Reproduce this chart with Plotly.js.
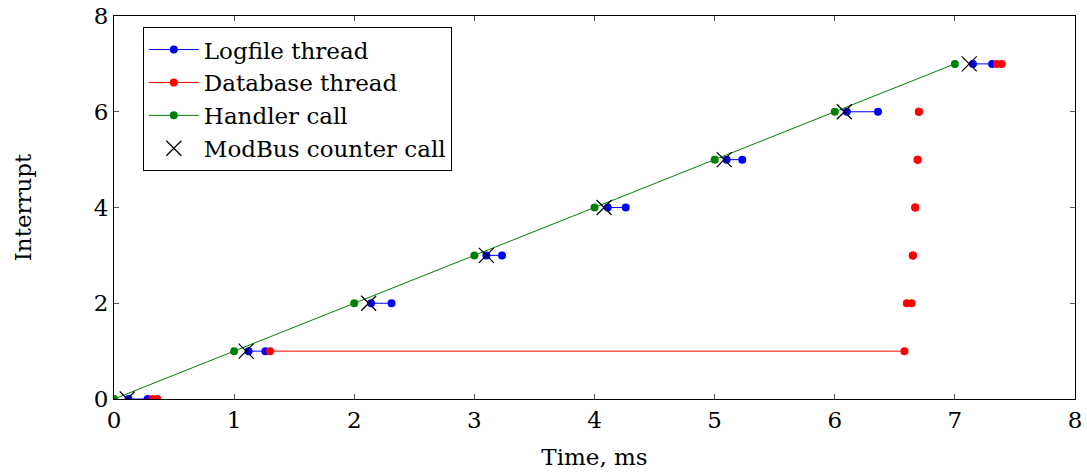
<!DOCTYPE html>
<html>
<head>
<meta charset="utf-8">
<script src="https://cdn.plot.ly/plotly-3.0.1.min.js"></script>
<style>html,body{margin:0;padding:0;background:#fff;}#chart{width:1087px;height:475px;}</style>
</head>
<body>
<div id="chart"></div>
<script>
// Interrupt number (y value) for each group of calls
const interrupts = [0, 1, 2, 3, 4, 5, 6, 7];
// Handler call time (ms)
const handlerTime = [0.00, 1.00, 2.00, 3.00, 4.00, 5.00, 6.00, 7.00];
// ModBus counter call time (ms)
const modbusTime = [0.11, 1.10, 2.12, 3.10, 4.08, 5.08, 6.08, 7.12];
// Logfile thread start / end (ms)
const logStart = [0.12, 1.12, 2.14, 3.10, 4.11, 5.10, 6.10, 7.15];
const logEnd   = [0.28, 1.26, 2.31, 3.23, 4.26, 5.23, 6.36, 7.31];
// Database thread start / end (ms)
const dbStart = [0.32, 1.30, 6.60, 6.65, 6.67, 6.69, 6.70, 7.35];
const dbEnd   = [0.36, 6.58, 6.64, 6.65, 6.67, 6.69, 6.70, 7.39];

function segs(a, b) {
  const x = [], y = [];
  interrupts.forEach((k, i) => { x.push(a[i], b[i], null); y.push(k, k, null); });
  return {x, y};
}
const logS = segs(logStart, logEnd);
const dbS = segs(dbStart, dbEnd);

const FONT = "DejaVu Serif";
const FS = 23;

const traces = [
  {name: 'Logfile thread', x: logS.x, y: logS.y, mode: 'lines+markers',
   line: {color: 'rgb(0,0,255)', width: 1}, marker: {color: 'rgb(0,0,255)', size: 8}, connectgaps: false},
  {name: 'Database thread', x: dbS.x, y: dbS.y, mode: 'lines+markers',
   line: {color: 'rgb(255,0,0)', width: 1}, marker: {color: 'rgb(255,0,0)', size: 8}, connectgaps: false},
  {name: 'Handler call', x: handlerTime, y: interrupts, mode: 'lines+markers',
   line: {color: 'rgb(0,128,0)', width: 1}, marker: {color: 'rgb(0,128,0)', size: 8}},
  {name: 'ModBus counter call', x: modbusTime, y: interrupts, mode: 'markers',
   marker: {symbol: 'x-thin', size: 15, color: 'black', line: {color: 'black', width: 1.2}}}
];

const axisCommon = {
  showgrid: false, zeroline: false, showline: true, mirror: 'ticks',
  linecolor: 'black', linewidth: 1, ticks: 'inside', ticklen: 5, tickcolor: '#555',
  tickfont: {family: FONT, size: FS, color: 'black'}, automargin: false
};

const layout = {
  width: 1087, height: 475,
  margin: {l: 114, r: 12, t: 16, b: 76},
  paper_bgcolor: 'white', plot_bgcolor: 'white',
  font: {family: FONT, size: FS, color: 'black'},
  showlegend: true,
  legend: {x: 0.030, y: 0.971, xanchor: 'left', yanchor: 'top',
           bgcolor: 'white', bordercolor: 'black', borderwidth: 1, itemwidth: 50,
           font: {family: FONT, size: FS, color: 'black'}, tracegroupgap: 0},
  xaxis: Object.assign({}, axisCommon, {range: [0, 8], dtick: 1, tick0: 0,
           title: {text: 'Time, ms', font: {family: FONT, size: FS}, standoff: 17}}),
  yaxis: Object.assign({}, axisCommon, {range: [0, 8], dtick: 2, tick0: 0,
           title: {text: 'Interrupt', font: {family: FONT, size: FS}, standoff: 55}})
};

Plotly.newPlot('chart', traces, layout, {displayModeBar: false, staticPlot: true});
</script>
</body>
</html>
